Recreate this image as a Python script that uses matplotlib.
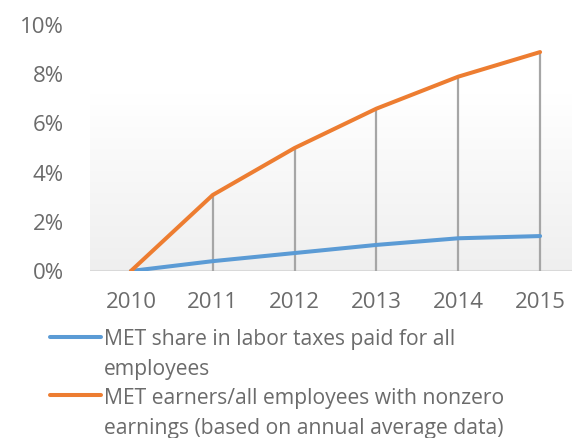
import numpy as np
import matplotlib
matplotlib.use("Agg")
import matplotlib.pyplot as plt
from matplotlib.lines import Line2D

years = ["2010", "2011", "2012", "2013", "2014", "2015"]
met_share = [0.0, 0.40, 0.73, 1.06, 1.33, 1.42]
met_earners = [0.0, 3.09, 5.00, 6.60, 7.90, 8.90]
legend_rows_1 = ["MET share in labor taxes paid for all", "employees"]
legend_rows_2 = ["MET earners/all employees with nonzero", "earnings (based on annual average data)"]
yticks = [0, 2, 4, 6, 8, 10]

W, H = 572, 438
plt.rcParams['font.family'] = ['Open Sans', 'DejaVu Sans']
TXT = '#6b6b6b'
BLUE = '#5b9bd5'
ORANGE = '#ed7d31'

fig = plt.figure(figsize=(W / 100, H / 100), dpi=100)
left, right = 90, 581
y0, y10 = 271, 25
ax = fig.add_axes([left / W, (H - y0) / H, (right - left) / W, (y0 - y10) / H])
x = np.arange(len(years))
ax.set_xlim(-0.5, len(years) - 0.5)
ax.set_ylim(0, 10)

# gradient plot-area background
grad_top = (y0 - 93) / (y0 - y10) * 10
g = np.linspace(0, 1, 100).reshape(-1, 1)
cmap = matplotlib.colors.LinearSegmentedColormap.from_list('g', ['#efefef', '#ffffff'])
ax.imshow(g, extent=(-0.5, len(years) - 0.5, 0, grad_top), origin='lower',
          aspect='auto', cmap=cmap, zorder=0)

ax.axhline(0, color='#d9d9d9', lw=1.5, zorder=1)
ax.vlines(x[1:], 0, met_earners[1:], color='#a6a6a6', lw=1.6, zorder=2)
ax.plot(x, met_share, color=BLUE, lw=2.9, solid_capstyle='round', zorder=3)
ax.plot(x, met_earners, color=ORANGE, lw=2.9, solid_capstyle='round', zorder=4)

for s in ax.spines.values():
    s.set_visible(False)
ax.set_yticks(yticks)
ax.set_yticklabels([f"{v}%" for v in yticks])
ax.set_xticks(x)
ax.set_xticklabels(years)
ax.tick_params(axis='both', length=0, labelsize=16, labelcolor=TXT)
ax.tick_params(axis='y', pad=19)
ax.tick_params(axis='x', pad=15)

# legend drawn manually
def fy(py):
    return 1 - py / H

for (ly, rows, col, bases) in [(337, legend_rows_1, BLUE, [345, 375]),
                               (395, legend_rows_2, ORANGE, [404, 434])]:
    fig.add_artist(Line2D([50 / W, 101 / W], [fy(ly), fy(ly)], color=col, lw=2.9,
                          solid_capstyle='round', transform=fig.transFigure))
    for r, b in zip(rows, bases):
        fig.text(104 / W, fy(b), r, color=TXT, fontsize=15.2, va='baseline', ha='left')

fig.savefig('out.png', dpi=100)
